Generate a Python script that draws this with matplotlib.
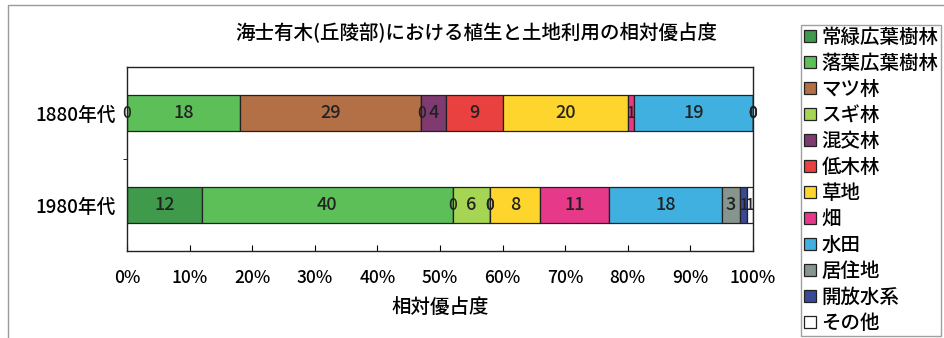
import matplotlib.pyplot as plt
from matplotlib.patches import Rectangle

plt.rcParams['font.family'] = ['Noto Sans CJK JP', 'DejaVu Sans']

periods = ["1980年代", "1880年代"]
categories = ["常緑広葉樹林", "落葉広葉樹林", "マツ林", "スギ林", "混交林", "低木林",
              "草地", "畑", "水田", "居住地", "開放水系", "その他"]
colors = ["#3f9a4c", "#5cbf58", "#b36f45", "#a6d553", "#7f3a70", "#e8413f",
          "#fed52c", "#e6398a", "#3fb0df", "#86958d", "#3a4996", "#ffffff"]
# values per category: [1980年代, 1880年代]
values = {
    "常緑広葉樹林": [12, 0],
    "落葉広葉樹林": [40, 18],
    "マツ林": [0, 29],
    "スギ林": [6, 0],
    "混交林": [0, 4],
    "低木林": [0, 9],
    "草地": [8, 20],
    "畑": [11, 1],
    "水田": [18, 19],
    "居住地": [3, 0],
    "開放水系": [1, 0],
    "その他": [1, 0],
}

fig = plt.figure(figsize=(9.44, 3.38), dpi=100)
ax = fig.add_axes([127/944, 1-251/338, 626/944, 184/338])

# outer chart frame
fig.patches.append(Rectangle((8/944, -0.05), 1.0, 1-5/338+0.05, transform=fig.transFigure,
                             fill=False, edgecolor="#9a9a9a", linewidth=1.0))

left = [0, 0]
for cat, col in zip(categories, colors):
    v = values[cat]
    ax.barh([0, 1], v, left=left, height=0.39, color=col, edgecolor="#222222",
            linewidth=0.9, label=cat)
    for i in range(2):
        ax.text(left[i] + v[i] / 2, i, str(v[i]), ha="center", va="center",
                fontsize=13 if v[i] > 1 else 11, color="#222222", fontweight="medium")
    left = [left[0] + v[0], left[1] + v[1]]

ax.set_xlim(0, 100)
ax.set_ylim(-0.5, 1.5)
ax.set_xticks(range(0, 101, 10))
ax.set_xticklabels([f"{t}%" for t in range(0, 101, 10)], fontsize=12.5, fontweight="medium")
ax.tick_params(axis="x", direction="in", length=4, pad=13)
ax.set_yticks([0, 1])
ax.set_yticklabels(periods, fontsize=13.5, fontweight="medium")
ax.set_yticks([0.5], minor=True)
ax.tick_params(axis="y", which="major", length=0, pad=8)
ax.tick_params(axis="y", which="minor", length=3)
for s in ax.spines.values():
    s.set_linewidth(1.0)
    s.set_color("#222222")
ax.set_xlabel("相対優占度", fontsize=14, fontweight="medium", labelpad=8)

fig.text(476/944, 1-33/338, "海士有木(丘陵部)における植生と土地利用の相対優占度",
         ha="center", va="center", fontsize=14, fontweight="medium")

ax.legend(loc="upper left", bbox_to_anchor=(801/944, 1-25/338),
          bbox_transform=fig.transFigure, prop={"size": 14, "weight": "medium"},
          frameon=True, fancybox=False,
          edgecolor="#888888", borderaxespad=0, borderpad=0.15, handlelength=0.6,
          handleheight=0.6, handletextpad=0.3, labelspacing=0.36)

fig.savefig("out.png", dpi=100)
